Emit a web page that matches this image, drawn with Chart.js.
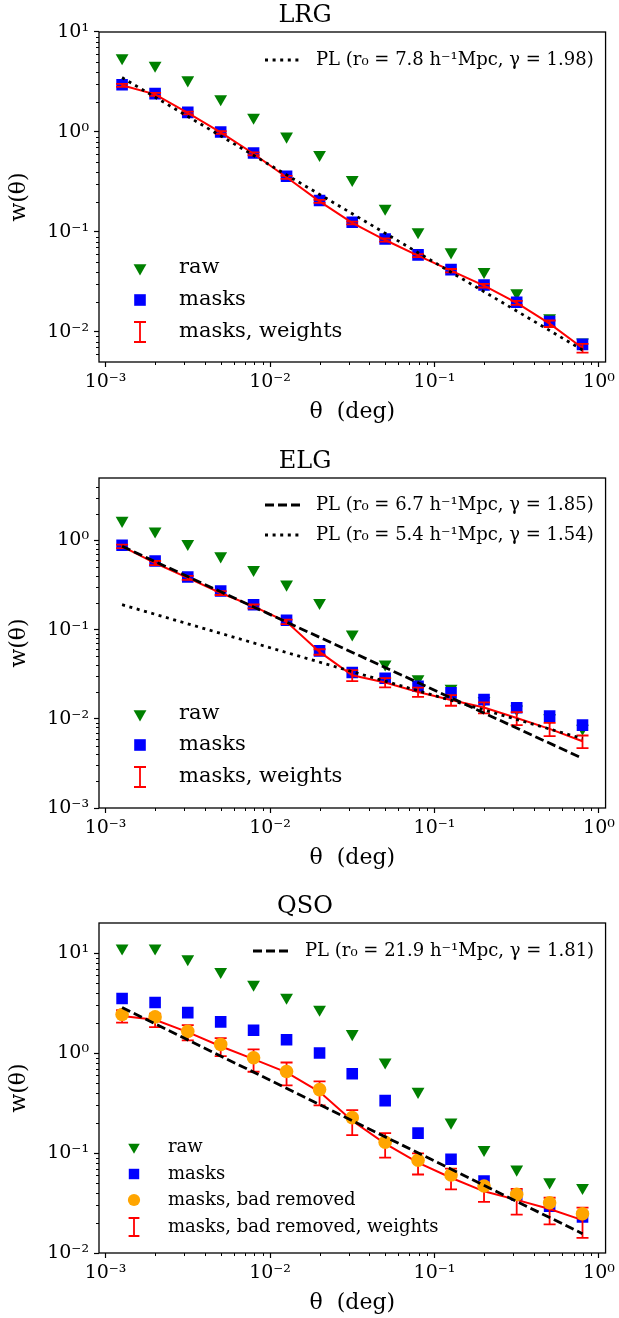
<!DOCTYPE html>
<html><head><meta charset="utf-8">
<script src="https://cdn.jsdelivr.net/npm/chart.js@4.4.0/dist/chart.umd.min.js"></script>
<style>
html,body{margin:0;padding:0;background:#fff;}
#wrap{position:relative;width:619px;height:1318px;background:#fff;}
canvas{position:absolute;left:0;}
</style></head><body>
<div id="wrap">
<canvas id="c1" width="619" height="440" style="top:0px"></canvas>
<canvas id="c2" width="619" height="440" style="top:440px"></canvas>
<canvas id="c3" width="619" height="438" style="top:880px"></canvas>
</div>
<script>
// ---------- data ----------
const theta = [0.00126,0.00200,0.00316,0.00501,0.00794,0.0126,0.0200,0.0316,0.0501,0.0794,0.126,0.200,0.316,0.501,0.794];
const xTickValues = [0.001,0.01,0.1,1];
const xTickLabels = ['10⁻³','10⁻²','10⁻¹','10⁰'];
const plTheta = [0.00126,0.794];

// LRG
const lrgRaw = [5.5,4.64,3.31,2.14,1.40,0.905,0.593,0.334,0.172,0.100,0.063,0.040,0.0245,0.0138,0.0079];
const lrgMasks = [2.97,2.42,1.57,1.00,0.617,0.360,0.206,0.125,0.085,0.059,0.042,0.0295,0.0198,0.0127,0.0075];
const lrgWeights = [2.93,2.38,1.55,0.99,0.605,0.352,0.202,0.123,0.083,0.058,0.041,0.0290,0.0195,0.0121,0.0069];
const lrgWeightsErr = [0.10,0.08,0.05,0.03,0.02,0.012,0.007,0.004,0.003,0.002,0.0016,0.0012,0.0009,0.0009,0.0007];
const lrgPLdotted = [3.5,0.0066];
const lrgYTicks = [0.01,0.1,1,10];
const lrgYLabels = ['10⁻²','10⁻¹','10⁰','10¹'];

// ELG
const elgRaw = [1.67,1.27,0.918,0.668,0.47,0.322,0.200,0.0887,0.041,0.028,0.0219,0.0160,0.0128,0.0102,0.0078];
const elgMasks = [0.88,0.587,0.389,0.271,0.190,0.127,0.0577,0.0330,0.0285,0.0232,0.0195,0.0164,0.0133,0.0107,0.0085];
const elgWeights = [0.857,0.557,0.380,0.257,0.182,0.122,0.0562,0.0308,0.0255,0.0200,0.0162,0.0134,0.0102,0.0077,0.0056];
const elgWeightsErr = [0.04,0.03,0.02,0.013,0.009,0.007,0.004,0.0043,0.003,0.0024,0.0022,0.0019,0.0017,0.0013,0.0009];
const elgPLdashed = [0.857,0.0036];
const elgPLdotted = [0.19,0.0060];
const elgYTicks = [0.001,0.01,0.1,1];
const elgYLabels = ['10⁻³','10⁻²','10⁻¹','10⁰'];

// QSO
const qsoRaw = [11.2,11.2,8.74,6.52,4.86,3.60,2.73,1.56,0.81,0.412,0.203,0.108,0.0688,0.0513,0.045];
const qsoMasks = [3.52,3.20,2.54,2.05,1.69,1.36,1.00,0.62,0.334,0.158,0.0867,0.0525,0.038,0.0294,0.023];
const qsoBadRemoved = [2.43,2.30,1.65,1.22,0.898,0.654,0.431,0.226,0.128,0.0847,0.0604,0.0468,0.0386,0.0318,0.0247];
const qsoWeights = [2.35,2.15,1.62,1.17,0.87,0.64,0.41,0.21,0.124,0.080,0.0566,0.0414,0.034,0.0275,0.0213];
const qsoWeightsErr = [0.33,0.33,0.28,0.24,0.22,0.165,0.11,0.059,0.034,0.019,0.0133,0.009,0.0098,0.0082,0.0071];
const qsoPLdashed = [2.85,0.0156];
const qsoYTicks = [0.01,0.1,1,10];
const qsoYLabels = ['10⁻²','10⁻¹','10⁰','10¹'];

// ---------- styling ----------
const FONT = "'DejaVu Serif', serif";
Chart.defaults.font.family = FONT;
Chart.defaults.color = '#000';
const GREEN='#008000', BLUE='#0000ff', ORANGE='#ffa500', RED='#ff0000', BLACK='#000000';
const X_MIN = Math.pow(10,-3.04), X_MAX = Math.pow(10,0.04);
const TRI_R = 7.4;

function pts(xs, ys){ return ys.map((v,i)=>({x:xs[i], y:v})); }

function rawDS(vals){ return {data:pts(theta,vals), showLine:false, pointStyle:'triangle', pointRotation:180, pointRadius:TRI_R, pointBackgroundColor:GREEN, pointBorderWidth:0, order:5}; }
function masksDS(vals){ return {data:pts(theta,vals), showLine:false, pointStyle:'rect', pointRadius:8.2, pointBackgroundColor:BLUE, pointBorderWidth:0, order:4}; }
function circDS(vals){ return {data:pts(theta,vals), showLine:false, pointStyle:'circle', pointRadius:6.8, pointBackgroundColor:ORANGE, pointBorderWidth:0, order:1}; }
function errDS(vals, errs, order){ return {data:pts(theta,vals), errors:errs, showLine:true, borderColor:RED, borderWidth:2, tension:0, fill:false, pointRadius:0, order:order}; }
function plDS(vals, dash, order){ return {data:pts(plTheta,vals), showLine:true, borderColor:BLACK, borderWidth:2.8, borderDash:dash, borderCapStyle:'butt', tension:0, fill:false, pointRadius:0, order:order}; }
const DOTTED = [3,4.6], DASHED = [9,4];

// ---------- decoration plugin ----------
function drawMarker(ctx, kind, x, y, s) {
  ctx.save();
  if (kind==='tri') {
    const r=TRI_R*s; ctx.fillStyle=GREEN; ctx.beginPath();
    ctx.moveTo(x-r*0.866,y-r*0.5); ctx.lineTo(x+r*0.866,y-r*0.5); ctx.lineTo(x,y+r); ctx.closePath(); ctx.fill();
  } else if (kind==='rect') {
    const h=5.8*s; ctx.fillStyle=BLUE; ctx.fillRect(x-h,y-h,2*h,2*h);
  } else if (kind==='circle') {
    ctx.fillStyle=ORANGE; ctx.beginPath(); ctx.arc(x,y,6.8*s,0,Math.PI*2); ctx.fill();
  } else if (kind==='err') {
    const h=10*s, w=6*s; ctx.strokeStyle=RED; ctx.lineWidth=1.8; ctx.beginPath();
    ctx.moveTo(x,y-h); ctx.lineTo(x,y+h); ctx.moveTo(x-w,y-h); ctx.lineTo(x+w,y-h); ctx.moveTo(x-w,y+h); ctx.lineTo(x+w,y+h); ctx.stroke();
  }
  ctx.restore();
}

const decor = {
  id:'decor',
  afterDatasetDraw(chart, args) {
    const ds = chart.data.datasets[args.index];
    if (!ds.errors) return;
    const ctx = chart.ctx, xs = chart.scales.x, ys = chart.scales.y, a = chart.chartArea;
    ctx.save();
    ctx.beginPath(); ctx.rect(a.left,a.top,a.right-a.left,a.bottom-a.top); ctx.clip();
    ctx.strokeStyle = RED; ctx.lineWidth = 1.8;
    ds.data.forEach((p,i)=>{
      const e = ds.errors[i];
      const x = xs.getPixelForValue(p.x);
      const yh = ys.getPixelForValue(p.y + e);
      const yl = ys.getPixelForValue(Math.max(p.y - e, 1e-6));
      ctx.beginPath();
      ctx.moveTo(x,yl); ctx.lineTo(x,yh);
      ctx.moveTo(x-6,yl); ctx.lineTo(x+6,yl);
      ctx.moveTo(x-6,yh); ctx.lineTo(x+6,yh);
      ctx.stroke();
    });
    ctx.restore();
  },
  afterDraw(chart, args, opts) {
    const ctx = chart.ctx, a = chart.chartArea, xs = chart.scales.x, ys = chart.scales.y;
    ctx.save();
    // minor ticks
    ctx.strokeStyle='#000'; ctx.lineWidth=1;
    for (let d=-4; d<=1; d++) for (let m=2; m<=9; m++) {
      const v = m*Math.pow(10,d);
      if (v>xs.min && v<xs.max) { const x=Math.round(xs.getPixelForValue(v))+0.5; ctx.beginPath(); ctx.moveTo(x,a.bottom); ctx.lineTo(x,a.bottom+3); ctx.stroke(); }
      if (v>ys.min && v<ys.max) { const y=Math.round(ys.getPixelForValue(v))+0.5; ctx.beginPath(); ctx.moveTo(a.left,y); ctx.lineTo(a.left-3,y); ctx.stroke(); }
    }
    // frame
    ctx.lineWidth=1.3; ctx.strokeStyle='#000';
    ctx.strokeRect(a.left, a.top, a.right-a.left, a.bottom-a.top);
    // legends
    (opts.legends||[]).forEach(lg=>{
      ctx.font = lg.size+'px '+FONT; ctx.fillStyle='#000'; ctx.textBaseline='middle'; ctx.textAlign='left';
      lg.items.forEach(it=>{
        if (it.kind==='dotted' || it.kind==='dashed') {
          ctx.save(); ctx.strokeStyle=BLACK; ctx.lineWidth=2.8; ctx.setLineDash(it.kind==='dotted'?DOTTED:DASHED);
          ctx.beginPath(); ctx.moveTo(lg.x0, it.y); ctx.lineTo(lg.x1, it.y); ctx.stroke(); ctx.restore();
        } else {
          drawMarker(ctx, it.kind, lg.mx, it.y, lg.scale||1);
        }
        ctx.fillText(it.text, lg.tx, it.y);
      });
    });
    ctx.restore();
  }
};

function build(id, p) {
  return new Chart(document.getElementById(id), {
    type:'scatter',
    data:{datasets:p.datasets},
    options:{
      responsive:false, animation:false, devicePixelRatio:1,
      layout:{padding:{left:0,right:9,top:0,bottom:0}},
      plugins:{
        legend:{display:false}, tooltip:{enabled:false},
        title:{display:true, text:p.title, color:'#000', font:{size:24, weight:'normal', family:FONT, lineHeight:1.2}, padding:{top:p.tpt, bottom:p.tpb}},
        decor:{legends:p.legends}
      },
      scales:{
        x:{type:'logarithmic', position:'bottom', min:X_MIN, max:X_MAX,
          afterFit(s){ s.height = p.xh; },
          afterBuildTicks(s){ s.ticks = xTickValues.map(v=>({value:v})); },
          ticks:{autoSkip:false, maxRotation:0, minRotation:0, padding:4, color:'#000', font:{size:19, family:FONT}, callback:(v,i)=>xTickLabels[i]},
          grid:{display:true, drawOnChartArea:false, drawTicks:true, tickLength:5, tickColor:'#000', tickWidth:1.2},
          border:{display:false},
          title:{display:true, text:'θ  (deg)', color:'#000', font:{size:22, family:FONT, lineHeight:1.2}, padding:{top:0, bottom:p.xtb}}
        },
        y:{type:'logarithmic', position:'left', min:p.ymin, max:p.ymax,
          afterFit(s){ s.width = 99; },
          afterBuildTicks(s){ s.ticks = p.yt.map(v=>({value:v})); },
          ticks:{autoSkip:false, padding:5, color:'#000', font:{size:19, family:FONT}, callback:(v,i)=>p.yl[i]},
          grid:{display:true, drawOnChartArea:false, drawTicks:true, tickLength:5, tickColor:'#000', tickWidth:1.2},
          border:{display:false},
          title:{display:true, text:'w(θ)', color:'#000', font:{size:22, family:FONT, lineHeight:1.2}, padding:{top:6, bottom:0}}
        }
      }
    },
    plugins:[decor]
  });
}

build('c1', {
  title:'LRG', tpt:0.9, tpb:2.3, xh:78, xtb:14.8, ymin:0.005, ymax:10, yt:lrgYTicks, yl:lrgYLabels,
  datasets:[
    plDS(lrgPLdotted, DOTTED, 0),
    errDS(lrgWeights, lrgWeightsErr, 1),
    masksDS(lrgMasks),
    rawDS(lrgRaw)
  ],
  legends:[
    {size:21, mx:140, tx:179, items:[{kind:'tri',text:'raw',y:268},{kind:'rect',text:'masks',y:300},{kind:'err',text:'masks, weights',y:332}]},
    {size:18, x0:265, x1:300, tx:316, items:[{kind:'dotted',text:'PL (r₀ = 7.8 h⁻¹Mpc, γ = 1.98)',y:60}]}
  ]
});

build('c2', {
  title:'ELG', tpt:7.6, tpb:1.6, xh:72, xtb:8.8, ymin:0.001, ymax:5, yt:elgYTicks, yl:elgYLabels,
  datasets:[
    plDS(elgPLdashed, DASHED, 0),
    plDS(elgPLdotted, DOTTED, 0),
    errDS(elgWeights, elgWeightsErr, 1),
    masksDS(elgMasks),
    rawDS(elgRaw)
  ],
  legends:[
    {size:21, mx:140, tx:179, items:[{kind:'tri',text:'raw',y:274},{kind:'rect',text:'masks',y:305},{kind:'err',text:'masks, weights',y:337}]},
    {size:18, x0:265, x1:301, tx:316, items:[{kind:'dashed',text:'PL (r₀ = 6.7 h⁻¹Mpc, γ = 1.85)',y:65},{kind:'dotted',text:'PL (r₀ = 5.4 h⁻¹Mpc, γ = 1.54)',y:95}]}
  ]
});

build('c3', {
  title:'QSO', tpt:12.3, tpb:1.9, xh:65, xtb:1.8, ymin:0.01, ymax:20, yt:qsoYTicks, yl:qsoYLabels,
  datasets:[
    plDS(qsoPLdashed, DASHED, 0),
    circDS(qsoBadRemoved),
    errDS(qsoWeights, qsoWeightsErr, 2),
    masksDS(qsoMasks),
    rawDS(qsoRaw)
  ],
  legends:[
    {size:18, mx:134, tx:168, scale:0.9, items:[{kind:'tri',text:'raw',y:267},{kind:'rect',text:'masks',y:294},{kind:'circle',text:'masks, bad removed',y:320},{kind:'err',text:'masks, bad removed, weights',y:347}]},
    {size:18, x0:253, x1:290, tx:305, items:[{kind:'dashed',text:'PL (r₀ = 21.9 h⁻¹Mpc, γ = 1.81)',y:71}]}
  ]
});
</script>
</body></html>
